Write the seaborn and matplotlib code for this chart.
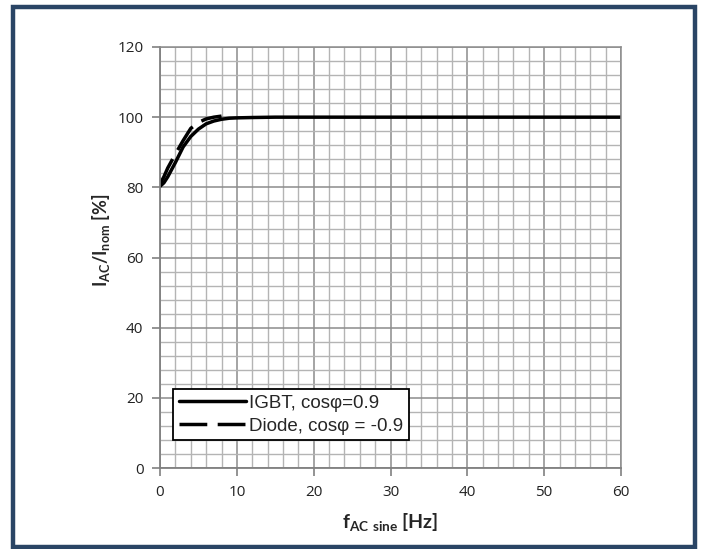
import matplotlib
matplotlib.use("Agg")
import matplotlib.pyplot as plt
import seaborn as sns
import pandas as pd
from matplotlib.patches import Rectangle
from matplotlib.ticker import MultipleLocator

# data
igbt_f = [0, 0.5, 1, 2, 3, 4, 5, 6, 7, 8, 9, 10, 12, 15, 20, 30, 40, 50, 60]
igbt_i = [80.3, 81.3, 83.0, 87.1, 91.5, 94.5, 96.6, 98.1, 98.9, 99.4, 99.7, 99.8, 99.9, 100, 100, 100, 100, 100, 100]
diode_f = [0, 0.5, 1, 2, 3, 4, 5, 6, 7, 8]
diode_i = [81, 83, 85.5, 89.5, 93.3, 96.8, 98.5, 99.5, 100, 100.3]

x_ticks = [0, 10, 20, 30, 40, 50, 60]
y_ticks = [0, 20, 40, 60, 80, 100, 120]

igbt = pd.DataFrame({"f": igbt_f, "i": igbt_i})
diode = pd.DataFrame({"f": diode_f, "i": diode_i})

sns.set_style("white")
plt.rcParams["font.family"] = ["Open Sans", "DejaVu Sans"]
plt.rcParams["mathtext.default"] = "regular"

fig = plt.figure(figsize=(7.02, 5.49), dpi=100)
ax = fig.add_axes([0.228, 0.1475, 0.6566, 0.7669])

grid_major = "#8c8c8c"
grid_minor = "#b4b4b4"

ax.set_xlim(0, 60)
ax.set_ylim(0, 120)
ax.xaxis.set_minor_locator(MultipleLocator(2))
ax.yaxis.set_minor_locator(MultipleLocator(4))
ax.set_xticks(x_ticks)
ax.set_yticks(y_ticks)
ax.grid(which="major", color=grid_major, lw=1.1)
ax.grid(which="minor", color=grid_minor, lw=1.0)
ax.set_axisbelow(True)

sns.lineplot(data=igbt, x="f", y="i", ax=ax, color="black", lw=2.5,
             label="IGBT, cos\u03c6=0.9")
sns.lineplot(data=diode, x="f", y="i", ax=ax, color="black", lw=2.5,
             label="Diode, cos\u03c6 = -0.9")
ax.lines[1].set_dashes([8, 3])
ax.lines[1].set_dash_capstyle("butt")

for s in ["left", "bottom"]:
    ax.spines[s].set_color("#808080")
    ax.spines[s].set_linewidth(1.3)
for s in ["top", "right"]:
    ax.spines[s].set_color(grid_major)
    ax.spines[s].set_linewidth(1.1)

ax.tick_params(which="major", direction="out", length=6, width=1.2,
               color="#808080", labelsize=11, labelcolor="#222222",
               bottom=True, left=True, pad=6)
ax.tick_params(which="minor", length=0)

ax.set_xlabel(r"f$_{AC\ sine}$ [Hz]", fontsize=14, fontweight="bold",
              family=["Lato", "DejaVu Sans"], labelpad=8)
ax.set_ylabel(r"I$_{AC}$/I$_{nom}$ [%]", fontsize=13, fontweight="bold",
              family=["Lato", "DejaVu Sans"])
ax.yaxis.set_label_coords(-0.105, 0.54)

leg = ax.legend(loc="lower left", bbox_to_anchor=(0.028, 0.066),
                frameon=True, fancybox=False, handlelength=3.6,
                handletextpad=0.15, borderpad=0.3, labelspacing=0.3,
                borderaxespad=0,
                prop={"family": ["Liberation Sans", "DejaVu Sans"], "size": 13.5})
leg.get_frame().set_edgecolor("black")
leg.get_frame().set_linewidth(1.3)
leg.get_frame().set_alpha(1)

# dark blue picture frame
fig.patches.append(Rectangle((13 / 702, 2 / 549), 682 / 702, 540 / 549,
                             transform=fig.transFigure, fill=False,
                             edgecolor="#2a4565", lw=3.2))

fig.savefig("out.png", dpi=100)
